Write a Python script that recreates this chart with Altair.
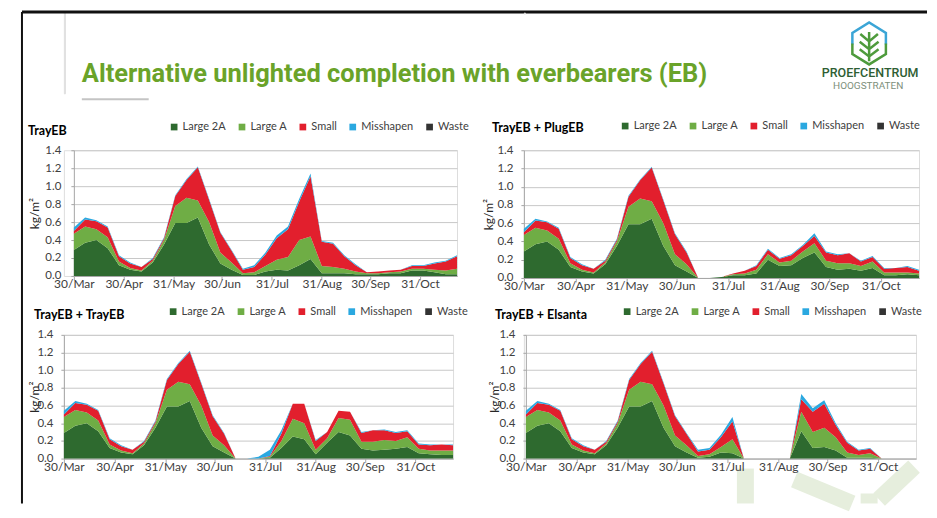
import altair as alt
import pandas as pd

# ---------------- data ----------------
DATES = ["2015-03-30", "2015-04-06", "2015-04-13", "2015-04-20", "2015-04-27",
         "2015-05-04", "2015-05-11", "2015-05-18", "2015-05-25", "2015-06-01",
         "2015-06-08", "2015-06-15", "2015-06-22", "2015-06-29", "2015-07-06",
         "2015-07-13", "2015-07-20", "2015-07-27", "2015-08-03", "2015-08-10",
         "2015-08-17", "2015-08-24", "2015-08-31", "2015-09-07", "2015-09-14",
         "2015-09-21", "2015-09-28", "2015-10-05", "2015-10-12", "2015-10-19",
         "2015-10-26", "2015-11-02", "2015-11-09", "2015-11-16", "2015-11-23"]
DOMAIN_DATES = ["2015-03-30", "2015-11-23"]
TICK_DATES = ["2015-03-30", "2015-04-30", "2015-05-31", "2015-06-30",
              "2015-07-31", "2015-08-31", "2015-09-30", "2015-10-31"]
Y_TICKS = [0.0, 0.2, 0.4, 0.6, 0.8, 1.0, 1.2, 1.4]

CATEGORIES = ["Large 2A", "Large A", "Small", "Misshapen", "Waste"]
COLORS = ["#2E6A2F", "#6FAD45", "#E21F2D", "#2AA8E0", "#333333"]

# TrayEB
P1_L2A = [0.29, 0.37, 0.40, 0.31, 0.12, 0.07, 0.05, 0.15, 0.35, 0.59, 0.59, 0.65, 0.35, 0.14, 0.07,
          0.01, 0.01, 0.05, 0.07, 0.06, 0.12, 0.19, 0.03, 0.03, 0.03, 0.02, 0.02, 0.02, 0.03, 0.03,
          0.06, 0.06, 0.04, 0.02, 0.02]
P1_LA = [0.18, 0.18, 0.12, 0.12, 0.04, 0.02, 0.01, 0.02, 0.05, 0.19, 0.28, 0.19, 0.25, 0.12, 0.08,
         0.02, 0.03, 0.06, 0.11, 0.15, 0.28, 0.25, 0.08, 0.07, 0.05, 0.03, 0.01, 0.01, 0.01, 0.02,
         0.02, 0.02, 0.03, 0.04, 0.06]
P1_S = [0.03, 0.08, 0.09, 0.11, 0.06, 0.05, 0.04, 0.02, 0.02, 0.11, 0.20, 0.37, 0.25, 0.22, 0.13,
        0.04, 0.06, 0.13, 0.24, 0.31, 0.43, 0.67, 0.27, 0.26, 0.14, 0.07, 0.01, 0.02, 0.02, 0.02,
        0.03, 0.03, 0.07, 0.10, 0.14]
P1_M = [0.04, 0.02, 0.01, 0.01, 0.01, 0.01, 0.00, 0.01, 0.01, 0.01, 0.01, 0.01, 0.01, 0.01, 0.01,
        0.01, 0.02, 0.02, 0.03, 0.03, 0.03, 0.03, 0.01, 0.01, 0.01, 0.01, 0.00, 0.00, 0.00, 0.00,
        0.01, 0.01, 0.01, 0.01, 0.01]

# TrayEB + PlugEB
P2_L2A = [0.29, 0.37, 0.40, 0.31, 0.12, 0.07, 0.05, 0.15, 0.35, 0.59, 0.59, 0.65, 0.35, 0.14, 0.07,
          0.00, 0.00, 0.01, 0.03, 0.03, 0.05, 0.20, 0.13, 0.14, 0.22, 0.28, 0.12, 0.09, 0.10, 0.08,
          0.11, 0.03, 0.03, 0.04, 0.03]
P2_LA = [0.18, 0.18, 0.12, 0.12, 0.04, 0.02, 0.01, 0.02, 0.05, 0.19, 0.28, 0.19, 0.25, 0.12, 0.08,
         0.00, 0.00, 0.00, 0.01, 0.02, 0.04, 0.06, 0.04, 0.05, 0.07, 0.10, 0.07, 0.07, 0.06, 0.05,
         0.07, 0.03, 0.03, 0.02, 0.02]
P2_S = [0.03, 0.08, 0.09, 0.11, 0.06, 0.05, 0.04, 0.02, 0.02, 0.11, 0.20, 0.37, 0.25, 0.22, 0.13,
        0.00, 0.00, 0.00, 0.01, 0.03, 0.04, 0.05, 0.04, 0.06, 0.06, 0.08, 0.09, 0.09, 0.11, 0.05,
        0.05, 0.04, 0.05, 0.06, 0.03]
P2_M = [0.04, 0.02, 0.01, 0.01, 0.01, 0.01, 0.00, 0.01, 0.01, 0.01, 0.01, 0.01, 0.01, 0.01, 0.01,
        0.00, 0.00, 0.00, 0.00, 0.00, 0.01, 0.01, 0.01, 0.01, 0.01, 0.03, 0.01, 0.01, 0.00, 0.01,
        0.01, 0.01, 0.00, 0.01, 0.01]

# TrayEB + TrayEB
P3_L2A = [0.29, 0.37, 0.40, 0.31, 0.12, 0.07, 0.05, 0.15, 0.35, 0.59, 0.59, 0.65, 0.35, 0.14, 0.07,
          0.00, 0.00, 0.00, 0.01, 0.12, 0.25, 0.22, 0.05, 0.18, 0.30, 0.26, 0.11, 0.09, 0.10, 0.11,
          0.13, 0.06, 0.05, 0.04, 0.04]
P3_LA = [0.18, 0.18, 0.12, 0.12, 0.04, 0.02, 0.01, 0.02, 0.05, 0.19, 0.28, 0.19, 0.25, 0.12, 0.08,
         0.00, 0.00, 0.00, 0.01, 0.08, 0.20, 0.18, 0.05, 0.05, 0.16, 0.18, 0.08, 0.10, 0.11, 0.09,
         0.11, 0.05, 0.04, 0.05, 0.05]
P3_S = [0.03, 0.08, 0.09, 0.11, 0.06, 0.05, 0.04, 0.02, 0.02, 0.11, 0.20, 0.37, 0.25, 0.22, 0.13,
        0.00, 0.00, 0.00, 0.01, 0.08, 0.17, 0.22, 0.10, 0.07, 0.08, 0.09, 0.10, 0.13, 0.11, 0.09,
        0.07, 0.05, 0.06, 0.07, 0.06]
P3_M = [0.04, 0.02, 0.01, 0.01, 0.01, 0.01, 0.00, 0.01, 0.01, 0.01, 0.01, 0.01, 0.01, 0.01, 0.01,
        0.00, 0.00, 0.02, 0.07, 0.04, 0.00, 0.00, 0.01, 0.00, 0.00, 0.00, 0.01, 0.00, 0.01, 0.01,
        0.01, 0.01, 0.01, 0.00, 0.01]

# TrayEB + Elsanta
P4_L2A = [0.29, 0.37, 0.40, 0.31, 0.12, 0.07, 0.05, 0.15, 0.35, 0.59, 0.59, 0.65, 0.35, 0.14, 0.07,
          0.01, 0.02, 0.07, 0.06, 0.00, 0.00, 0.00, 0.00, 0.00, 0.31, 0.12, 0.13, 0.09, 0.01, 0.01,
          0.01, 0.00, 0.00, 0.00, 0.00]
P4_LA = [0.18, 0.18, 0.12, 0.12, 0.04, 0.02, 0.01, 0.02, 0.05, 0.19, 0.28, 0.19, 0.25, 0.12, 0.08,
         0.02, 0.03, 0.06, 0.16, 0.00, 0.00, 0.00, 0.00, 0.00, 0.22, 0.18, 0.22, 0.15, 0.06, 0.03,
         0.05, 0.00, 0.00, 0.00, 0.00]
P4_S = [0.03, 0.08, 0.09, 0.11, 0.06, 0.05, 0.04, 0.02, 0.02, 0.11, 0.20, 0.37, 0.25, 0.22, 0.13,
        0.05, 0.05, 0.11, 0.20, 0.00, 0.00, 0.00, 0.00, 0.00, 0.14, 0.23, 0.27, 0.14, 0.11, 0.05,
        0.05, 0.00, 0.00, 0.00, 0.00]
P4_M = [0.04, 0.02, 0.01, 0.01, 0.01, 0.01, 0.00, 0.01, 0.01, 0.01, 0.01, 0.01, 0.01, 0.01, 0.01,
        0.02, 0.02, 0.03, 0.05, 0.00, 0.00, 0.00, 0.00, 0.00, 0.06, 0.04, 0.04, 0.02, 0.01, 0.01,
        0.01, 0.00, 0.00, 0.00, 0.00]

WASTE = [0.0, 0.0, 0.0, 0.0, 0.0, 0.0, 0.0, 0.0, 0.0, 0.0, 0.0, 0.0, 0.0, 0.0, 0.0, 0.0, 0.0, 0.0,
         0.0, 0.0, 0.0, 0.0, 0.0, 0.0, 0.0, 0.0, 0.0, 0.0, 0.0, 0.0, 0.0, 0.0, 0.0, 0.0, 0.0]

PANEL_TITLES = ["TrayEB", "TrayEB + PlugEB", "TrayEB + TrayEB", "TrayEB + Elsanta"]
SLIDE_TITLE = "Alternative unlighted completion with everbearers (EB)"

FONT = "Lato"
TEXT_GREY = "#404040"
ONE = pd.DataFrame({"a": [0]})


def dt(s):
    y, m, d = (int(p) for p in s.split("-"))
    return alt.DateTime(year=y, month=m, date=d, utc=True)


def panel(title, series, width, height, xrange, title_xy, legend_xy, ytitle_x, label_pad):
    rows = []
    for k, (cat, vals) in enumerate(zip(CATEGORIES, series)):
        for d, v in zip(DATES, vals):
            rows.append({"date": d, "cat": cat, "value": v, "k": k})
    df = pd.DataFrame(rows)
    area = alt.Chart(df).mark_area(interpolate="linear").encode(
        x=alt.X("date:T",
                scale=alt.Scale(type="utc", domain=[dt(s) for s in DOMAIN_DATES], nice=False,
                                range=xrange),
                axis=alt.Axis(values=[dt(s) for s in TICK_DATES],
                              labelExpr="utcFormat(datum.value, '%d/%b')",
                              title=None, grid=False, domainColor="#a6a6a6",
                              tickColor="#a6a6a6", tickSize=4, labelPadding=-1,
                              labelFont=FONT, labelFontSize=12, labelColor=TEXT_GREY,
                              labelFlush=False, labelOverlap=False)),
        y=alt.Y("value:Q", stack="zero",
                scale=alt.Scale(domain=[0, 1.4], nice=False),
                axis=alt.Axis(values=Y_TICKS, format=".1f", title="kg/m²",
                              offset=-xrange[0],
                              grid=True, gridColor="#c8c8c8", domainColor="#a6a6a6",
                              tickColor="#a6a6a6", tickSize=3, labelPadding=label_pad,
                              labelFont=FONT, labelFontSize=11.5, labelColor=TEXT_GREY,
                              titleFont=FONT, titleFontSize=12, titleFontWeight="normal",
                              titleColor="#262626", titleX=ytitle_x, titleBaseline="middle")),
        color=alt.Color("cat:N", scale=alt.Scale(domain=CATEGORIES, range=COLORS),
                        legend=alt.Legend(orient="none", legendX=legend_xy[0],
                                          legendY=legend_xy[1], direction="horizontal",
                                          columns=5, title=None, symbolType="square",
                                          symbolSize=45, symbolStrokeWidth=0,
                                          labelFont=FONT, labelFontSize=11,
                                          labelColor=TEXT_GREY, columnPadding=10,
                                          labelOffset=3)),
        order=alt.Order("k:Q", sort="ascending"),
    )
    ttl = alt.Chart(ONE).mark_text(text=title, align="left", baseline="middle", font=FONT,
                                   fontSize=12.5, fontWeight="bold", color="#000000").encode(
        x=alt.value(title_xy[0]), y=alt.value(title_xy[1]))
    return alt.layer(area, ttl).properties(width=width, height=height)


# group origins (page): p1 (63,148)  p2 (524,148)  p3 (63,333)  p4 (524,333)
p1 = panel(PANEL_TITLES[0], [P1_L2A, P1_LA, P1_S, P1_M, WASTE], 394, 126, [10, 394],
           (-36, -19), (105, -29), -39, 10)
p2 = panel(PANEL_TITLES[1], [P2_L2A, P2_LA, P2_S, P2_M, WASTE], 396, 128, [0, 396],
           (-32, -22), (96, -30), -35, 8)
p3 = panel(PANEL_TITLES[2], [P3_L2A, P3_LA, P3_S, P3_M, WASTE], 390, 124, [0, 390],
           (-30, -20), (104, -29), -29, 8)
p4 = panel(PANEL_TITLES[3], [P4_L2A, P4_LA, P4_S, P4_M, WASTE], 393, 124, [2, 393],
           (-29, -20), (98, -29), -31, 8)

blank = alt.Chart(ONE).mark_point(opacity=0).encode(
    x=alt.value(0), y=alt.value(0)).properties(width=1, height=1)


# ---------------- header (slide decoration) ----------------
def rule(x, y, x2, y2, color, w):
    return alt.Chart(ONE).mark_rule(color=color, strokeWidth=w).encode(
        x=alt.value(x), y=alt.value(y), x2=alt.value(x2), y2=alt.value(y2))


def text(t, x, y, **kw):
    return alt.Chart(ONE).mark_text(text=t, **kw).encode(x=alt.value(x), y=alt.value(y))


def symbol(path, x, y, size, color, w):
    return alt.Chart(ONE).mark_point(shape=path, size=size, filled=False, stroke=color,
                                     strokeWidth=w, opacity=1).encode(
        x=alt.value(x), y=alt.value(y))


WM = "#e6eedd"
header = alt.layer(
    rule(683, 457, 683, 492, WM, 17),
    rule(732, 468, 790, 492, WM, 17),
    rule(807, 482, 807, 492, WM, 17),
    rule(852, 455, 817, 488, WM, 17),
    rule(-42, -0.5, 865, -0.5, "#111111", 3),
    rule(-42, -0.5, -42, 492, "#111111", 2),
    text(SLIDE_TITLE, 18, 70, align="left", baseline="alphabetic",
         font="Roboto", fontSize=25.5, fontWeight="bold", color="#6AA329"),
    rule(18, 87, 85, 87, "#c4c4c4", 2),
    symbol("M-0.8,0.05L-0.8,-0.5L0,-1L0.8,-0.5L0.8,0.05", 807, 31, 1764, "#3BA5D6", 2.5),
    symbol("M0.8,0L0.8,0.5L0,1L-0.8,0.5L-0.8,0", 807, 31, 1764, "#4E9B3C", 2.5),
    symbol("M0,-0.55L0,0.85M-0.42,-0.45L0,-0.1L0.42,-0.45M-0.45,-0.08L0,0.27L0.45,-0.08"
           "M-0.45,0.28L0,0.62L0.45,0.28", 807, 31, 1764, "#4E9B3C", 2.5),
    text("PROEFCENTRUM", 808, 61, align="center", baseline="middle",
         font="Roboto", fontSize=12.5, fontWeight=500, color="#2E5E33"),
    text("HOOGSTRATEN", 806, 74, align="center", baseline="middle",
         font="Roboto", fontSize=10, color="#7D8F7B"),
).properties(width=1, height=81)

chart = alt.concat(
    header, blank, p1, p2, p3, p4,
    columns=2, bounds="flush", align="each",
    spacing={"row": 57, "column": 67},
).resolve_scale(color="independent").properties(
    padding={"left": 12, "top": 0, "right": 0, "bottom": 0}
).configure_view(stroke=None).configure(font=FONT)

chart.save("out.html", embed_options={"renderer": "svg", "actions": False})
